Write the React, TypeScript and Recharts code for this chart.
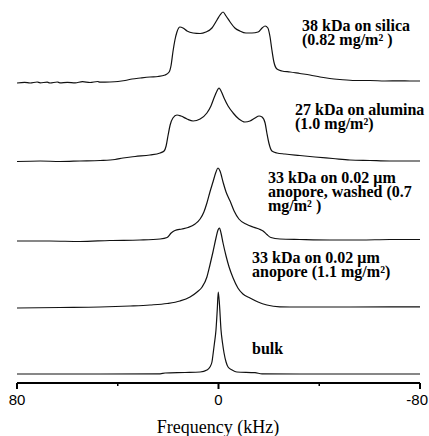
import React from "react";
import { LineChart, Line, XAxis, YAxis } from "recharts";

// Frequency (kHz) and intensity (arbitrary units above each trace's baseline)
const SILICA_F = [80, 77, 74.8, 72, 70.8, 68, 66.9, 64, 63, 60, 56.9, 54, 51, 48, 47, 43.1, 39.9, 37.1, 34.3, 31, 27.2, 24, 21.2, 19.6, 18.8, 18.1, 17.3, 16.5, 15.3, 14.1, 12.5, 10.1, 7.3, 5, 2.6, 0.6, -0.6, -1.8, -3, -4.6, -6.5, -8.5, -10.9, -13.3, -15.7, -17.3, -18.5, -19.6, -20.4, -21.2, -22, -23.2, -25.2, -28.4, -32.3, -36.3, -40.3, -44.2, -48.2, -54.2, -60.1, -66.1, -72, -76, -80];
const SILICA_I = [-1, -0.3, -1, 0, -0.8, -0.2, -1, 0, -0.8, -0.3, -0.8, 0.3, -0.5, 0.5, -0.2, 0, 0.5, 1.5, 3, 4, 5, 5.5, 7, 10, 17, 30, 42, 50, 55, 54, 51, 49, 48.5, 50, 54, 62, 67, 70, 66, 60, 54, 51, 49, 49, 50, 54, 56, 54, 46, 32, 20, 13, 11, 10, 8.5, 7, 5, 3.5, 2.5, 1.5, 1.5, 1, 1.2, 1, 1];

const ALUMINA_F = [80, 70.8, 62.9, 55, 47, 41.1, 37.9, 33.1, 27.2, 23.2, 21.6, 20.8, 20, 19.2, 18.1, 16.5, 14.9, 12.5, 10.1, 7.3, 4.6, 3, 1.8, 0.6, -0.2, -1, -2.2, -3.8, -5.8, -8.1, -10.5, -12.5, -14.5, -16.1, -17.3, -18.5, -19.2, -20, -21.2, -23.2, -26.4, -32.3, -38.3, -45.4, -52.2, -60.1, -68, -80];
const ALUMINA_I = [-0.5, 0, -0.5, 0, 0.5, 1.5, 3, 4.5, 6, 8, 10, 15, 26, 36, 43, 46, 45, 42, 40, 42, 48, 55, 63, 70, 73, 70, 63, 55, 48, 42, 39, 40, 43, 45, 44, 38, 28, 18, 10, 8, 7, 5.5, 4, 2.5, 1, 0.5, 0, 0];

const WASHED_F = [80, 66.9, 55, 43.1, 31.2, 23.2, 20.4, 18.8, 17.3, 14.5, 12.1, 9.3, 7.3, 5.8, 4.6, 3.4, 2.2, 1, 0.2, -0.6, -1.8, -3, -4.6, -6.2, -8.1, -10.9, -13.7, -16.1, -17.7, -19.2, -20.8, -24.4, -32.3, -44.2, -56.2, -68, -80];
const WASHED_I = [-1, -1, -1.5, -0.5, 0, 1, 2.5, 7, 9.5, 11, 12.5, 16, 21, 28, 37, 48, 58, 68, 72, 69, 58, 48, 39, 29, 21, 16, 13, 11, 9, 5.5, 2.5, 1, 0.5, 0, 0, 0.5, 0.5];

const ANOPORE_F = [80, 62.9, 47, 35.1, 27.2, 20.4, 15.3, 11.3, 8.5, 6.5, 4.6, 3.4, 2.2, 1, 0.2, -0.4, -1, -1.8, -3, -4.2, -5.8, -7.7, -9.7, -12.5, -15.7, -19.2, -24.4, -32.3, -52.2, -80];
const ANOPORE_I = [-1, -0.5, 0, 1, 2, 3.5, 6, 10, 15, 20, 30, 42, 55, 69, 77, 79, 74, 64, 51, 40, 29, 19, 13, 9, 5, 2, 0.2, 0, 0, 0.2];

const BULK_F = [80, 47, 23.2, 21.2, 13.3, 7.3, 4.6, 3.4, 2.6, 2.1, 1.6, 1, 0.5, 0.1, -0.4, -1, -1.6, -2.2, -3, -3.8, -5.4, -7.3, -14.5, -17.3, -32.3, -80];
const BULK_I = [0, 0, 0.2, 1, 1.5, 2, 4, 7, 12, 21, 31, 44, 64, 82, 69, 44, 31, 21, 12, 7, 4, 2, 1.3, 0.2, 0, 0];

// vertical offsets of each stacked trace
const OFFSETS = [301, 222, 143, 76, 9];
const X_TICKS = [80, 40, 0, -40, -80];
const X_TICK_LABELS = ["80", "", "0", "", "-80"];

const LABELS = [
  ["38 kDa on silica", "(0.82 mg/m² )"],
  ["27 kDa on alumina", "(1.0 mg/m²)"],
  ["33 kDa on 0.02 μm", "anopore, washed (0.7", "mg/m² )"],
  ["33 kDa on 0.02 μm", "anopore (1.1 mg/m²)"],
  ["bulk"],
];

const TRACES = [
  [SILICA_F, SILICA_I],
  [ALUMINA_F, ALUMINA_I],
  [WASHED_F, WASHED_I],
  [ANOPORE_F, ANOPORE_I],
  [BULK_F, BULK_I],
];

const series = TRACES.map(([f, v], k) =>
  f.slice(0, Math.min(f.length, v.length)).map((fr, i) => ({ f: fr, v: OFFSETS[k] + v[i] }))
);

const Tick = (props: any) => {
  const { x, y, payload } = props;
  const idx = X_TICKS.indexOf(payload.value);
  const label = X_TICK_LABELS[idx] ?? "";
  const major = label !== "";
  const last = idx === X_TICKS.length - 1;
  return (
    <g>
      <line x1={x} x2={x} y1={y} y2={y + (major ? 6 : 3)} stroke="#000" strokeWidth={major ? 2 : 1.5} />
      {major && (
        <text
          x={last ? x + 8 : x}
          y={y + 22}
          textAnchor={last ? "end" : "middle"}
          fontFamily="'Liberation Sans', Arial, sans-serif"
          fontSize={15}
          fill="#000"
        >
          {label}
        </text>
      )}
    </g>
  );
};

const serif = "'Liberation Serif', 'Times New Roman', serif";

const LABEL_POS = [
  [302, 31],
  [295, 115],
  [268, 183],
  [252, 263],
  [252, 354],
];

export default function App() {
  return (
    <div style={{ position: "absolute", left: 0, top: 0, width: 429, height: 436, background: "#fff" }}>
      <LineChart width={429} height={436} margin={{ top: 0, right: 9, bottom: 0, left: 17 }}>
        <XAxis
          dataKey="f"
          type="number"
          domain={[-80, 80]}
          reversed
          ticks={X_TICKS}
          interval={0}
          tickSize={0}
          tickMargin={0}
          tickLine={false}
          axisLine={{ stroke: "#000", strokeWidth: 2 }}
          tick={<Tick />}
          height={53}
          allowDataOverflow
        />
        <YAxis hide type="number" domain={[0, 383]} allowDataOverflow />
        {series.map((d, k) => (
          <Line
            key={k}
            data={d}
            dataKey="v"
            type="monotone"
            stroke="#111"
            strokeWidth={1.2}
            dot={false}
            isAnimationActive={false}
          />
        ))}
      </LineChart>
      <svg width={429} height={436} style={{ position: "absolute", left: 0, top: 0, pointerEvents: "none" }}>
        {LABELS.map((lines, k) =>
          lines.map((ln, i) => (
            <text
              key={`${k}-${i}`}
              x={LABEL_POS[k][0]}
              y={LABEL_POS[k][1] + i * 14}
              fontFamily={serif}
              fontWeight="bold"
              fontSize={16}
              fill="#000"
            >
              {ln}
            </text>
          ))
        )}
        <text x={218} y={433} textAnchor="middle" fontFamily={serif} fontSize={18} fill="#000">
          Frequency (kHz)
        </text>
      </svg>
    </div>
  );
}
